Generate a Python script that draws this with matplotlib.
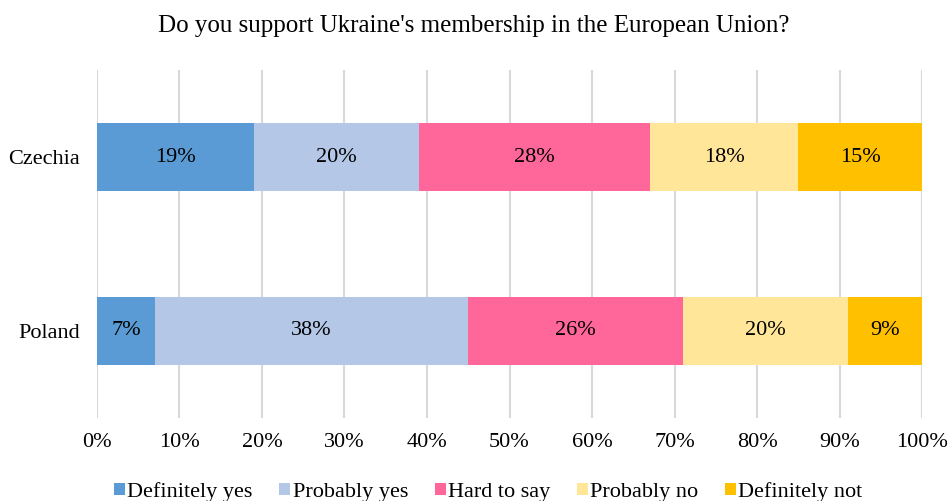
import numpy as np
import matplotlib.pyplot as plt

plt.rcParams['font.family'] = ['Liberation Serif', 'DejaVu Serif']

countries = ['Czechia', 'Poland']
answers = ['Definitely yes', 'Probably yes', 'Hard to say', 'Probably no', 'Definitely not']
czechia = [19, 20, 28, 18, 15]
poland = [7, 38, 26, 20, 9]
colors = ['#5B9BD5', '#B4C7E7', '#FF6699', '#FFE699', '#FFC000']

values = np.array([czechia, poland])

fig = plt.figure(figsize=(9.48, 5.01), dpi=100)
ax = fig.add_axes([0.1023, 0.166, 0.8703, 0.694])

ypos = np.arange(len(countries))
left = np.zeros(len(countries))
for i, name in enumerate(answers):
    bars = ax.barh(ypos, values[:, i], left=left, height=0.39,
                   color=colors[i], label=name, zorder=2)
    ax.bar_label(bars, labels=[f'{v}%' for v in values[:, i]],
                 label_type='center', fontsize=16)
    left += values[:, i]

ax.set_xlim(0, 100)
ax.set_ylim(1.5, -0.5)
ax.set_yticks(ypos)
ax.set_yticklabels(countries, fontsize=16)
ax.set_xticks(np.arange(0, 101, 10))
ax.set_xticklabels([f'{t}%' for t in range(0, 101, 10)], fontsize=16)
ax.tick_params(length=0)
ax.tick_params(axis='x', pad=11)
ax.tick_params(axis='y', pad=12)
ax.grid(axis='x', color='#D9D9D9', linewidth=1.5, zorder=0)
for s in ax.spines.values():
    s.set_visible(False)

fig.suptitle("Do you support Ukraine's membership in the European Union?",
             fontsize=18, y=0.97)

fig.legend(loc='lower center', ncol=5, bbox_to_anchor=(0.515, -0.042),
           frameon=False, fontsize=16, handlelength=0.5, handleheight=0.5,
           handletextpad=0.1, columnspacing=1.2)

fig.savefig('out.png', dpi=100)
